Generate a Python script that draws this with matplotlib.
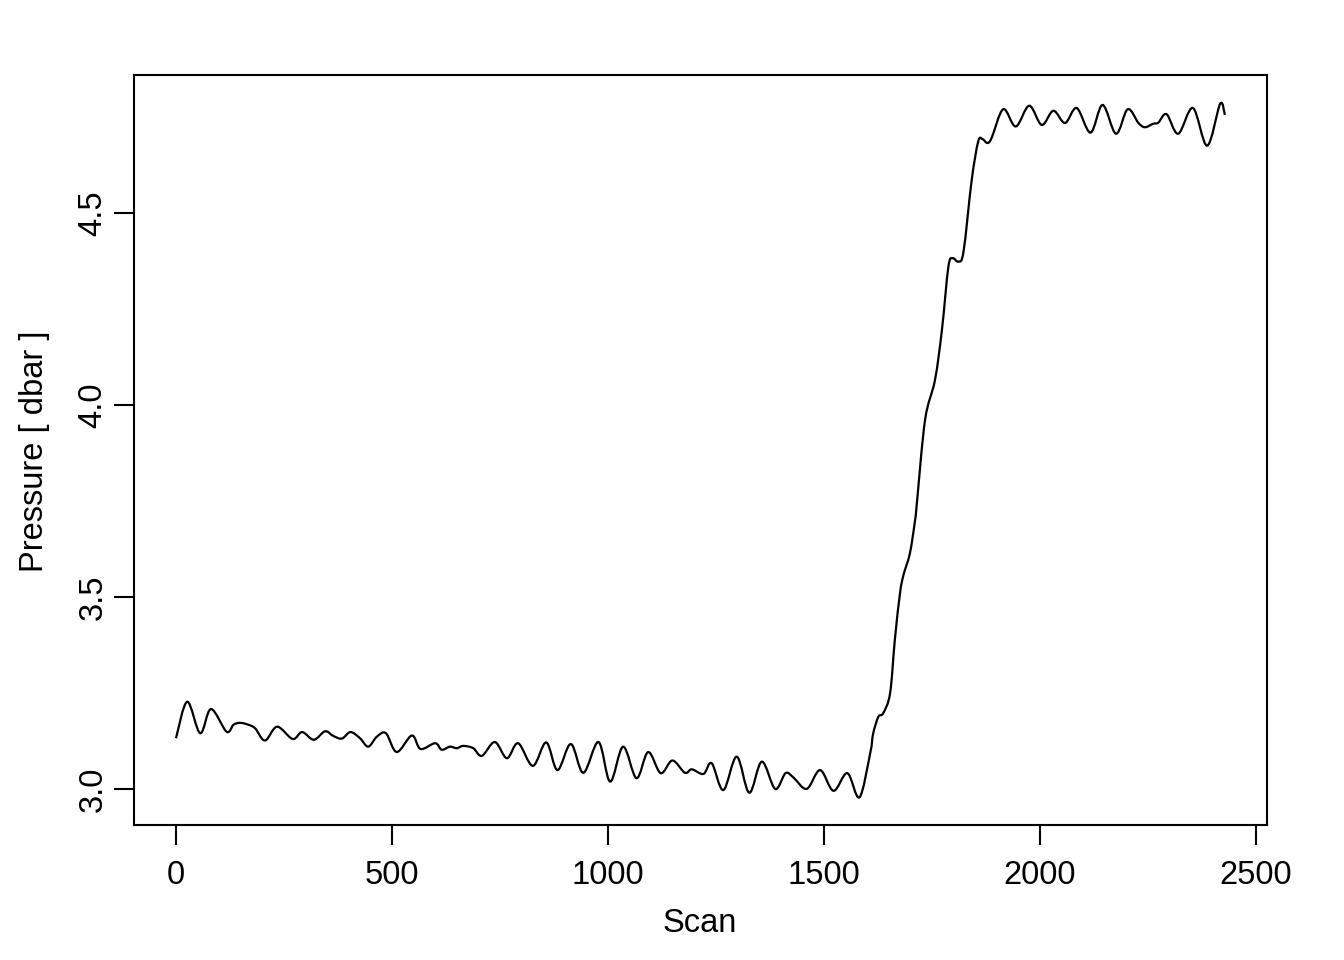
import matplotlib
matplotlib.use("Agg")
import matplotlib.pyplot as plt
from matplotlib.path import Path
from matplotlib.patches import PathPatch
import numpy as np

# Scan vs pressure
scan = [0, 26, 56, 81, 117, 133, 148, 165, 183, 206, 234, 270, 292, 319, 345, 364,
        384, 404, 426, 445, 465, 486, 511, 546, 566, 600, 615, 634, 650, 665, 688,
        708, 738, 766, 792, 826, 857, 883, 914, 943, 978, 1005, 1035, 1066, 1093,
        1122, 1149, 1178, 1194, 1221, 1240, 1267, 1298, 1327, 1356, 1387, 1411,
        1429, 1460, 1491, 1522, 1554, 1582, 1607, 1614, 1626, 1637, 1653, 1664,
        1676, 1684, 1699, 1711, 1715, 1734, 1757, 1773, 1788, 1798, 1811, 1823,
        1842, 1857, 1867, 1878, 1888, 1915, 1944, 1975, 2004, 2031, 2058, 2085,
        2117, 2145, 2176, 2203, 2228, 2243, 2262, 2274, 2293, 2320, 2354, 2387,
        2417, 2428]
pressure = [3.132, 3.227, 3.145, 3.208, 3.149, 3.167, 3.172, 3.168, 3.158, 3.126,
            3.162, 3.130, 3.148, 3.128, 3.150, 3.138, 3.131, 3.148, 3.132, 3.110,
            3.136, 3.145, 3.096, 3.139, 3.104, 3.119, 3.102, 3.110, 3.106, 3.112,
            3.106, 3.086, 3.122, 3.080, 3.119, 3.060, 3.121, 3.049, 3.117, 3.042,
            3.122, 3.019, 3.110, 3.028, 3.096, 3.041, 3.074, 3.042, 3.051, 3.039,
            3.067, 2.997, 3.084, 2.990, 3.071, 3.000, 3.041, 3.030, 3.000, 3.049,
            2.995, 3.041, 2.978, 3.093, 3.145, 3.188, 3.197, 3.249, 3.388, 3.510,
            3.557, 3.614, 3.701, 3.744, 3.961, 4.065, 4.195, 4.360, 4.382, 4.373,
            4.399, 4.586, 4.686, 4.692, 4.682, 4.695, 4.770, 4.725, 4.779, 4.729,
            4.766, 4.734, 4.773, 4.709, 4.781, 4.706, 4.770, 4.734, 4.723, 4.732,
            4.735, 4.757, 4.706, 4.773, 4.675, 4.784, 4.755]

xticks = [0, 500, 1000, 1500, 2000, 2500]
yticks = [3.0, 3.5, 4.0, 4.5]

plt.rcParams['font.family'] = ['Liberation Sans', 'DejaVu Sans']

fig = plt.figure(figsize=(13.44, 9.6), dpi=100)
ax = fig.add_axes([134/1344, 1-825/960, (1267-134)/1344, (825-75)/960])

# smooth trace through the read points (Catmull-Rom as cubic Bezier segments)
pts = np.column_stack([scan, pressure]).astype(float)
ext = np.vstack([pts[0], pts, pts[-1]])
verts = [pts[0]]
codes = [Path.MOVETO]
for i in range(1, len(ext) - 2):
    p0, p1, p2, p3 = ext[i - 1], ext[i], ext[i + 1], ext[i + 2]
    verts += [p1 + (p2 - p0) / 6, p2 - (p3 - p1) / 6, p2]
    codes += [Path.CURVE4] * 3
ax.add_patch(PathPatch(Path(verts, codes), facecolor='none', edgecolor='black',
                       lw=1.6, joinstyle='round'))

ax.set_xlim(-97.2, 2525.5)
ax.set_ylim(2.906, 4.859)
ax.set_xticks(xticks)
ax.set_xticklabels([str(t) for t in xticks])
ax.set_yticks(yticks)
ax.set_yticklabels(["%.1f" % t for t in yticks])
for lab in ax.get_yticklabels():
    lab.set_rotation(90)
    lab.set_va('center')

ax.tick_params(direction='out', length=14.4, width=1.5, labelsize=23.5)
ax.tick_params(axis='x', pad=11)
ax.tick_params(axis='y', pad=4)
for s in ax.spines.values():
    s.set_linewidth(1.5)

ax.set_xlabel("Scan", fontsize=23.5)
ax.xaxis.set_label_coords((700-134)/1133, (825-924)/750)
ax.xaxis.label.set_va('center')
ax.set_ylabel("Pressure [ dbar ]", fontsize=23.5)
ax.yaxis.set_label_coords((35-134)/1133, (825-451)/750)
ax.yaxis.label.set_va('center')

fig.savefig("out.png", dpi=100)
